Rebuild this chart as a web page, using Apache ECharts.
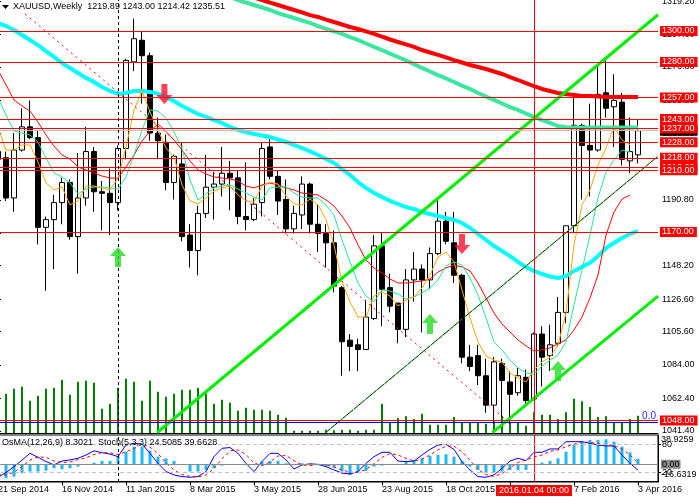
<!DOCTYPE html>
<html><head><meta charset="utf-8">
<script src="https://cdn.jsdelivr.net/npm/echarts@6/dist/echarts.min.js"></script>
<style>html,body{margin:0;padding:0;background:#fff}#c{width:699px;height:501px}</style>
</head><body><div id="c"></div>
<script>
const dates = ["21 Sep 2014","28 Sep 2014","5 Oct 2014","12 Oct 2014","19 Oct 2014","26 Oct 2014","2 Nov 2014","9 Nov 2014","16 Nov 2014","23 Nov 2014",
"30 Nov 2014","7 Dec 2014","14 Dec 2014","21 Dec 2014","28 Dec 2014","4 Jan 2015","11 Jan 2015","18 Jan 2015","25 Jan 2015","1 Feb 2015",
"8 Feb 2015","15 Feb 2015","22 Feb 2015","1 Mar 2015","8 Mar 2015","15 Mar 2015","22 Mar 2015","29 Mar 2015","5 Apr 2015","12 Apr 2015",
"19 Apr 2015","26 Apr 2015","3 May 2015","10 May 2015","17 May 2015","24 May 2015","31 May 2015","7 Jun 2015","14 Jun 2015","21 Jun 2015",
"28 Jun 2015","5 Jul 2015","12 Jul 2015","19 Jul 2015","26 Jul 2015","2 Aug 2015","9 Aug 2015","16 Aug 2015","23 Aug 2015","30 Aug 2015",
"6 Sep 2015","13 Sep 2015","20 Sep 2015","27 Sep 2015","4 Oct 2015","11 Oct 2015","18 Oct 2015","25 Oct 2015","1 Nov 2015","8 Nov 2015",
"15 Nov 2015","22 Nov 2015","29 Nov 2015","6 Dec 2015","13 Dec 2015","20 Dec 2015","27 Dec 2015","3 Jan 2016","10 Jan 2016","17 Jan 2016",
"24 Jan 2016","31 Jan 2016","7 Feb 2016","14 Feb 2016","21 Feb 2016","28 Feb 2016","6 Mar 2016","13 Mar 2016","20 Mar 2016","27 Mar 2016",
"3 Apr 2016"];

const open = [1222,1218,1192,1223,1238,1231,1173,1178,1189,1202,
1167,1192,1222,1196,1195,1189,1224,1280,1294,1284,
1234,1228,1202,1214,1168,1158,1182,1199,1201,1208,
1205,1180,1178,1189,1225,1206,1191,1172,1181,1201,
1175,1169,1163,1134,1100,1097,1094,1114,1161,1134,
1124,1107,1139,1146,1139,1156,1177,1163,1142,1089,
1090,1077,1058,1085,1073,1066,1076,1062,1104,1090,
1098,1118,1174,1239,1226,1223,1260,1251,1254,1216,
1219.89];
const high = [1228,1222,1234,1250,1255,1236,1180,1194,1205,1204,
1221,1238,1225,1203,1211,1226,1282,1308,1300,1286,
1244,1233,1220,1228,1175,1187,1220,1209,1225,1216,
1210,1215,1192,1228,1230,1210,1204,1187,1206,1202,
1188,1175,1171,1135,1104,1101,1126,1168,1170,1143,
1124,1146,1157,1149,1160,1191,1183,1183,1143,1097,
1097,1088,1089,1088,1080,1082,1081,1105,1109,1110,
1128,1174,1260,1240,1253,1277,1281,1272,1260,1244,
1243.00];
const low = [1208,1190,1183,1222,1230,1162,1132,1146,1175,1165,
1143,1187,1183,1171,1168,1184,1217,1274,1253,1229,
1217,1197,1191,1164,1147,1142,1179,1178,1193,1184,
1175,1171,1177,1180,1204,1181,1169,1169,1172,1169,
1157,1147,1131,1077,1080,1080,1094,1113,1109,1118,
1098,1102,1125,1105,1133,1155,1162,1137,1085,1080,
1071,1053,1046,1050,1046,1064,1059,1061,1070,1080,
1096,1111,1170,1191,1193,1222,1244,1225,1213,1208,
1214.42];
const close = [1217,1192,1223,1238,1231,1173,1178,1189,1202,1167,
1192,1222,1196,1195,1189,1224,1281,1295,1284,1234,
1229,1202,1219,1167,1158,1182,1199,1201,1208,1205,
1180,1178,1188,1224,1206,1190,1172,1182,1201,1175,
1169,1163,1135,1099,1096,1094,1115,1161,1133,1122,
1107,1139,1146,1139,1156,1177,1164,1142,1089,1083,
1077,1058,1086,1074,1065,1077,1061,1104,1089,1097,
1118,1174,1239,1226,1223,1259,1250,1255,1217,1222,
1235.51];

const volume = [120,118,133,139,97,112,133,136,160,115,
154,157,151,73,88,136,163,154,97,157,
124,109,118,130,130,136,118,88,100,91,
67,76,70,70,67,55,46,7,7,7,
7,10,8,10,10,7,10,10,88,32,
45,50,42,58,25,25,25,48,30,30,
30,28,35,52,30,30,22,62,55,55,
42,62,103,95,78,48,50,30,32,42,
52];

const maFast = [1237.3,1223.0,1223.0,1226.3,1226.3,1215.3,1201.7,1197.2,1199.1,1187.5,
1190.1,1199.7,1199.7,1198.5,1197.2,1204.9,1225.0,1248.9,1261.2,1247.6,
1236.0,1224.3,1218.5,1200.4,1190.1,1188.1,1192.0,1196.5,1198.5,1199.7,
1193.9,1190.1,1189.4,1199.7,1202.3,1201.0,1193.3,1188.1,1187.5,1191.3,
1187.5,1177.8,1161.6,1137.7,1124.7,1115.0,1115.0,1128.6,1131.2,1128.6,
1122.1,1126.0,1127.9,1133.8,1142.2,1153.8,1157.1,1150.6,1132.5,1114.4,
1098.9,1089.8,1087.2,1085.9,1078.8,1075.5,1073.0,1080.7,1085.9,1089.1,
1096.9,1117.6,1161.6,1187.5,1197.2,1213.3,1224.3,1237.9,1229.5,1226.3,
null];
const maMid = [1256.7,1245.7,1235.3,1234.0,1232.7,1228.2,1217.8,1208.2,1205.6,1201.7,
1194.6,1197.8,1199.1,1199.1,1198.5,1197.8,1205.6,1219.8,1236.0,1248.9,
1248.2,1243.7,1234.7,1224.3,1203.6,1190.7,1194.6,1198.5,1199.7,1200.4,
1197.8,1195.2,1192.6,1190.7,1198.5,1199.1,1199.1,1195.2,1192.6,1192.0,
1192.0,1187.5,1181.0,1164.8,1150.6,1137.0,1128.6,1124.7,1132.5,1131.8,
1129.9,1126.6,1127.9,1130.5,1133.8,1139.0,1148.0,1150.6,1148.6,1140.2,
1129.2,1114.4,1098.9,1093.7,1087.2,1082.0,1078.8,1078.1,1083.3,1087.2,
1090.4,1098.9,1122.8,1145.4,1168.0,1192.0,1208.8,1216.6,1223.0,1221.7,
null];
const maSlow = [1274.8,1265.1,1255.4,1251.5,1248.2,1241.1,1232.7,1225.6,1219.8,1217.2,
1212.0,1210.1,1208.2,1206.2,1204.9,1204.9,1212.0,1219.8,1228.8,1235.3,
1240.0,1235.0,1229.5,1223.0,1215.9,1210.1,1207.5,1205.6,1204.9,1204.3,
1203.0,1199.7,1198.5,1200.4,1201.7,1200.4,1198.5,1197.2,1195.2,1194.6,
1193.9,1190.7,1186.8,1180.3,1172.6,1161.6,1151.9,1146.7,1143.5,1139.6,
1137.0,1137.0,1137.6,1138.3,1139.6,1144.1,1146.7,1148.6,1147.4,1144.8,
1137.0,1127.3,1117.6,1110.5,1105.3,1100.2,1096.3,1093.0,1093.7,1095.0,
1097.6,1100.2,1106.6,1115.0,1127.3,1142.2,1168.0,1182.9,1191.3,1193.9,
null];
const ma50 = [1305.2,1303.2,1300.6,1297.4,1294.2,1290.9,1287.0,1283.2,1279.3,1276.1,
1272.8,1269.6,1267.0,1263.8,1261.2,1259.3,1259.9,1261.2,1261.2,1260.5,
1259.5,1257.3,1254.7,1251.5,1248.9,1246.3,1244.4,1242.4,1240.5,1237.9,
1236.0,1234.7,1233.4,1232.4,1231.4,1229.8,1228.2,1226.3,1224.3,1222.1,
1219.8,1217.2,1214.6,1210.7,1206.9,1202.3,1198.5,1195.2,1192.6,1190.1,
1188.1,1186.1,1184.9,1182.9,1181.6,1180.3,1179.0,1177.8,1175.8,1172.6,
1168.7,1164.8,1160.9,1157.7,1154.4,1150.6,1147.4,1144.8,1142.8,1141.2,
1140.2,1141.5,1144.8,1147.4,1149.9,1154.4,1159.6,1162.9,1166.1,1168.7,
1170.6];
const ma100 = [null,null,null,null,null,null,null,null,null,null,
null,null,null,null,null,null,null,null,null,null,
null,null,null,null,null,null,null,null,1323.9,1322.0,
1320.0,1318.4,1316.8,1315.2,1313.6,1311.6,1310.0,1308.4,1306.8,1305.2,
1303.2,1301.3,1299.7,1298.1,1296.1,1294.2,1291.9,1289.7,1287.7,1285.4,
1283.2,1280.9,1278.6,1276.1,1273.8,1271.5,1269.3,1267.0,1264.7,1262.5,
1259.9,1257.6,1255.4,1253.1,1250.8,1248.9,1246.6,1244.4,1242.4,1240.5,
1238.5,1237.7,1237.5,1237.5,1237.5,1237.5,1237.5,1237.5,1237.5,1237.5,
1237.5];
const ma200 = [null,null,null,null,null,null,null,null,null,null,
null,null,null,null,null,null,null,null,null,null,
null,null,null,null,null,null,null,null,null,null,
1325.2,1323.3,1321.7,1320.0,1318.4,1316.8,1315.2,1313.6,1312.0,1310.3,
1309.1,1307.4,1305.8,1304.2,1302.6,1301.3,1299.7,1298.1,1296.4,1294.5,
1292.9,1291.3,1289.7,1287.7,1286.1,1284.5,1282.9,1281.2,1279.6,1278.0,
1276.7,1275.4,1273.8,1272.2,1270.2,1268.3,1266.3,1264.4,1262.5,1261.2,
1259.9,1259.2,1258.6,1258.0,1258.0,1257.6,1257.3,1257.3,1257.3,1257.3,
1257.3];

const osma = [-20,-21.8,-19.2,-14,-11.4,-11.4,-10,-6.2,-7.8,-6.2,
-3.6,0.5,2.6,5.2,5.2,12,19.7,27.5,27.5,21.3,
12,9.3,5.2,-1,-11.4,-11.4,-8.8,-6.2,-2,-1,
-1,-1,0.5,4.2,5.2,5.2,1.6,-1,1.6,0.3,
-1.6,-3.6,-5.2,-11.4,-16.6319,-11.4,-10.4,-3.6,-2,-1,
-1,4.2,6.7,9.3,13,14.5,15.6,12,5.2,-3.6,
-8.8,-13,-13,-11.4,-8.8,-8.8,-8.8,-1,2.6,5.2,
9.3,19.7,30.1,35.3,37.9,38,38.9259,35.3,27.5,18.7,
8.3021];
const stochMain = [9.2,19,32,46,60.6,52,43,35.6,44,46.4,
50,57,66,62,59,53.5,78.5,82,80.6,60.6,
39,21.4,14.2,10.6,9.2,10.6,21.4,53.5,71.4,73,
60.6,39,21.4,43,60.6,60.6,46.4,27,35.6,38,
37,32,25,18,16.4,21.4,39,53.5,62.8,62.8,
44,42.8,44,57,69,78.5,80,69,42.8,25,
10.6,9.2,14.2,28.5,44,50,45,62.8,62.8,70,
70,85.6,85.6,85.6,82,78.5,76.4,76.4,57,39,
24.5085];
const stochSignal = [15,14,20,32,46,53,52,44,41,42,
47,51,58,62,62,58,64,71,80,74,
60,40,25,15,11,10,14,28,49,66,
68,58,40,34,42,55,56,45,36,34,
37,36,31,25,20,19,26,38,52,60,
57,50,44,48,57,68,76,76,64,46,
26,15,11,17,29,41,46,53,57,65,
68,75,80,85.6,84,82,79,77,70,57,
39.6628];

const priceTicks = [1319.20,1297.60,1276.80,1255.20,1233.60,1212.00,1190.80,1169.20,1148.20,1126.60,1105.60,1084.00,1062.40,1041.40];
const levels = [1212,1300,1280,1257,1243,1237,1228,1218,1210,1170,1048];
const currentPrice = 1235.51;
const fibZero = 1047.1;
const fib236 = 1218;
const stochLevels = [80, 20];
const osmaTicks = [38.9259, 0, -16.6319];
const separatorIdx = 15;
const newYearIdx = 67;
const newYearLabel = '2016.01.04 00:00';

const trendUpper = [[19.9,1040.3],[82.5,1310.5]];
const trendLower = [[61.8,1040.2],[82.5,1128.5]];
const trendMid = [[41.0,1040.4],[82.5,1219.0]];
const trendDown = [[3.4,1311.0],[63.4,1049.0]];
const arrowsUp = [[15,1153.8],[54,1110.5],[70,1080.1]];
const arrowsDown = [[20.8,1259.2],[58,1162.2]];

const FONT = 'Liberation Sans';
const cats = dates.concat([' ', '  ']);
const ohlc = open.map((o, i) => [o, close[i], low[i], high[i]]);

const tag = (bg, fg, txt) => ({show:true, position:'end', distance:2, formatter: txt,
  fontFamily:FONT, fontSize:9, lineHeight:10, color:fg, backgroundColor:bg, padding:[0,3,0,2]});

const chart = echarts.init(document.getElementById('c'));
const tickIdx = i => i % 8 === 0 && i <= 80;

chart.setOption({
  animation:false,
  backgroundColor:'#ffffff',
  textStyle:{fontFamily:FONT},
  grid:[
    {left:-6, top:0, width:664, height:433, outerBoundsMode:'none', containLabel:false},
    {left:-6, top:435, width:664, height:47, outerBoundsMode:'none', containLabel:false, show:true, borderColor:'#000', borderWidth:1}
  ],
  xAxis:[
    {gridIndex:0, type:'category', data:cats, boundaryGap:true, position:'bottom',
     axisLine:{show:true, lineStyle:{color:'#000'}}, axisTick:{show:false}, axisLabel:{show:false}, splitLine:{show:false}},
    {gridIndex:0, type:'value', min:-0.5, max:82.5, show:false, position:'top'},
    {gridIndex:1, type:'category', data:cats, boundaryGap:true, position:'bottom',
     axisLine:{show:true, lineStyle:{color:'#000'}},
     axisTick:{show:true, alignWithLabel:true, interval:tickIdx, length:4, lineStyle:{color:'#000'}},
     axisLabel:{show:true, interval:tickIdx, align:'left', margin:3, fontFamily:FONT, fontSize:9, color:'#000'},
     splitLine:{show:false}}
  ],
  yAxis:[
    {gridIndex:0, type:'value', position:'right', min:1039.97, max:1320.05, scale:true,
     axisLine:{show:true, lineStyle:{color:'#000'}}, splitLine:{show:false},
     axisTick:{show:true, customValues:priceTicks, length:3, lineStyle:{color:'#000'}},
     axisLabel:{show:true, customValues:priceTicks, formatter:v => v.toFixed(2), margin:4, fontFamily:FONT, fontSize:9, color:'#000'}},
    {gridIndex:0, type:'value', position:'left', min:0, max:1299, show:false},
    {gridIndex:1, type:'value', position:'right', min:-1, max:100,
     axisLine:{show:true, lineStyle:{color:'#000'}}, splitLine:{show:false},
     axisTick:{show:true, customValues:stochLevels, length:3, lineStyle:{color:'#000'}},
     axisLabel:{show:true, customValues:stochLevels, formatter:v => String(v), margin:4, fontFamily:FONT, fontSize:9, color:'#000'}},
    {gridIndex:1, type:'value', position:'right', min:-27.6, max:45.6,
     axisLine:{show:false}, splitLine:{show:false}, axisTick:{show:false},
     axisLabel:{show:true, customValues:osmaTicks, margin:3, fontFamily:FONT, fontSize:9, color:'#000',
       formatter:v => v === 0 ? '{z|0.00}' : String(v),
       rich:{z:{backgroundColor:'#8a8a8a', color:'#000', fontFamily:FONT, fontSize:9, padding:[0,1]}}}}
  ],
  graphic:[
    {type:'polygon', shape:{points:[[2,5],[9,5],[5.5,9]]}, style:{fill:'#000'}},
    {type:'text', left:13, top:2, style:{text:'XAUUSD,Weekly  ' + [open[80],high[80],low[80],close[80]].map(v=>v.toFixed(2)).join(' '),
      font:'9px "Liberation Sans"', fill:'#000'}},
    {type:'text', left:2, top:438, z:10, style:{text:'OsMA(12,26,9) ' + osma[80].toFixed(4) + '  Stoch(5,3,3) ' + stochMain[80].toFixed(4) + ' ' + stochSignal[80].toFixed(4),
      font:'9px "Liberation Sans"', fill:'#000'}}
  ],
  series:[
    {type:'bar', name:'volume', xAxisIndex:0, yAxisIndex:1, data:volume, barWidth:2, itemStyle:{color:'#008000'}, silent:true},
    {type:'candlestick', name:'XAUUSD', xAxisIndex:0, yAxisIndex:0, data:ohlc, barWidth:5,
     itemStyle:{color:'#ffffff', color0:'#000000', borderColor:'#000000', borderColor0:'#000000', borderWidth:1},
     markLine:{silent:true, symbol:['none','none'], animation:false, data:[
       {yAxis:currentPrice, lineStyle:{color:'#c0c0c0', type:'solid', width:1}, label:tag('#000000','#ffffff', currentPrice.toFixed(2))},
       ...levels.map(v => ({yAxis:v, lineStyle:{color:'#ff0000', type:'solid', width:1}, label:tag('#ff0000','#ffffff', v.toFixed(2))})),
       {yAxis:fibZero, lineStyle:{color:'#0000ff', type:'solid', width:1},
        label:{show:true, position:'insideEndTop', distance:[2,1], formatter:'0.0', color:'#2a2aff', fontFamily:FONT, fontSize:10}},
       {yAxis:fib236, lineStyle:{opacity:0},
        label:{show:true, position:'insideEndTop', distance:[2,1], formatter:'23.6', color:'#2a2aff', fontFamily:FONT, fontSize:10}},
       {xAxis:dates[separatorIdx], lineStyle:{color:'#000', type:[3,3], width:1}, label:{show:false}},
       {xAxis:dates[newYearIdx], lineStyle:{color:'#ff0000', type:'solid', width:1}, label:{show:false}}
     ]}},
    {type:'line', name:'MA200', xAxisIndex:0, yAxisIndex:0, data:ma200, showSymbol:false, lineStyle:{color:'#ff0000', width:4}, silent:true},
    {type:'line', name:'MA100', xAxisIndex:0, yAxisIndex:0, data:ma100, showSymbol:false, lineStyle:{color:'#3ce6a0', width:4}, silent:true},
    {type:'line', name:'MA50', xAxisIndex:0, yAxisIndex:0, data:ma50, showSymbol:false, lineStyle:{color:'#00ffff', width:4}, silent:true},
    {type:'line', name:'MAslow', xAxisIndex:0, yAxisIndex:0, data:maSlow, showSymbol:false, lineStyle:{color:'#ff0000', width:1}, silent:true},
    {type:'line', name:'MAmid', xAxisIndex:0, yAxisIndex:0, data:maMid, showSymbol:false, lineStyle:{color:'#20e890', width:1}, silent:true},
    {type:'line', name:'MAfast', xAxisIndex:0, yAxisIndex:0, data:maFast, showSymbol:false, lineStyle:{color:'#ffa500', width:1}, silent:true},
    {type:'line', name:'trendUpper', xAxisIndex:1, yAxisIndex:0, data:trendUpper, showSymbol:false, lineStyle:{color:'#00ee00', width:3}, silent:true},
    {type:'line', name:'trendLower', xAxisIndex:1, yAxisIndex:0, data:trendLower, showSymbol:false, lineStyle:{color:'#00ee00', width:3}, silent:true},
    {type:'line', name:'trendMid', xAxisIndex:1, yAxisIndex:0, data:trendMid, showSymbol:false, lineStyle:{color:'#000000', width:1}, silent:true},
    {type:'line', name:'trendMidDots', xAxisIndex:1, yAxisIndex:0, data:trendMid, showSymbol:false, lineStyle:{color:'#00ff00', width:1, type:[2,3]}, silent:true},
    {type:'line', name:'trendDown', xAxisIndex:1, yAxisIndex:0, data:trendDown, showSymbol:false, lineStyle:{color:'#ff0000', width:1, type:[2,4]}, silent:true},
    {type:'scatter', name:'buy', xAxisIndex:1, yAxisIndex:0, data:arrowsUp, z:6, silent:true,
     symbol:'path://M8,0 L16,9 L11,9 L11,20 L5,20 L5,9 L0,9 Z', symbolSize:[16,20],
     itemStyle:{color:'#22dd22'}},
    {type:'scatter', name:'sell', xAxisIndex:1, yAxisIndex:0, data:arrowsDown, z:6, silent:true,
     symbol:'path://M5,0 L11,0 L11,11 L16,11 L8,20 L0,11 L5,11 Z', symbolSize:[16,20],
     itemStyle:{color:'#ff1030'}},
    {type:'bar', name:'OsMA', xAxisIndex:2, yAxisIndex:3, data:osma, barWidth:3, itemStyle:{color:'#1ab8f5'}, silent:true,
     markLine:{silent:true, symbol:['none','none'], animation:false, data:[
       {yAxis:0, lineStyle:{color:'#8a8a8a', type:'solid', width:1}, label:{show:false}},
       {xAxis:dates[separatorIdx], lineStyle:{color:'#000', type:[3,3], width:1}, label:{show:false}},
       {xAxis:dates[newYearIdx], lineStyle:{color:'#ff0000', type:'solid', width:1},
        label:{show:true, position:'start', distance:3, formatter:newYearLabel, color:'#ffffff', backgroundColor:'#ff0000',
               fontFamily:FONT, fontSize:9, lineHeight:11, padding:[0,3]}}
     ]}},
    {type:'line', name:'StochMain', xAxisIndex:2, yAxisIndex:2, data:stochMain, showSymbol:false, lineStyle:{color:'#0000ff', width:1}, silent:true,
     markLine:{silent:true, symbol:['none','none'], animation:false, data:stochLevels.map(v => ({yAxis:v, lineStyle:{color:'#c0c0c0', type:[4,3], width:1}, label:{show:false}}))}},
    {type:'line', name:'StochSignal', xAxisIndex:2, yAxisIndex:2, data:stochSignal, showSymbol:false, lineStyle:{color:'#ff0000', width:1, type:[3,3]}, silent:true}
  ]
});
</script>
</body></html>
